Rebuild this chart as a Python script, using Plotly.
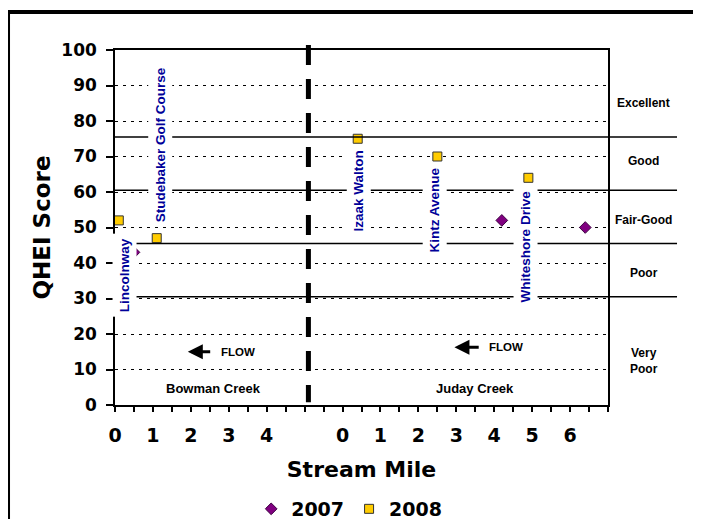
import numpy as np
import plotly.graph_objects as go

# ---------------- data ----------------
creek_2007 = ["Bowman", "Juday", "Juday"]
mile_2007 = [0.5, 4.2, 6.4]
score_2007 = [43, 52, 50]

creek_2008 = ["Bowman", "Bowman", "Juday", "Juday", "Juday"]
mile_2008 = [0.1, 1.1, 0.4, 2.5, 4.9]
score_2008 = [52, 47, 75, 70, 64]

site_names = ["Lincolnway", "Studebaker Golf Course", "Izaak Walton",
              "Kintz Avenue", "Whiteshore Drive"]
site_creek = ["Bowman", "Bowman", "Juday", "Juday", "Juday"]

class_names = ["Excellent", "Good", "Fair-Good", "Poor", "Very<br>Poor"]
class_bounds = [75.5, 60.5, 45.5, 30.5]

bowman_tick_miles = [0, 1, 2, 3, 4]
juday_tick_miles = [0, 1, 2, 3, 4, 5, 6]
creek_names = ["Bowman Creek", "Juday Creek"]

# ---------------- layout helpers ----------------
OFFSET = {"Bowman": 0.0, "Juday": 6.0}   # Juday Creek miles start after the divider


def pos(creeks, miles):
    return [m + OFFSET[c] for c, m in zip(creeks, miles)]


tickvals = list(np.arange(0, 13.01, 0.5))
labels = {}
for m in bowman_tick_miles:
    labels[float(m + OFFSET["Bowman"])] = str(m)
for m in juday_tick_miles:
    labels[float(m + OFFSET["Juday"])] = str(m)
ticktext = [labels.get(float(v), "") for v in tickvals]

BOLD_V = "DejaVu Sans"
ARIAL = "Liberation Sans, Arial"

fig = go.Figure()
fig.add_trace(go.Scatter(
    x=pos(creek_2007, mile_2007), y=score_2007, mode="markers", name="2007",
    marker=dict(symbol="diamond", size=9, color="#800080",
                line=dict(color="#3c0040", width=1)),
))
fig.add_trace(go.Scatter(
    x=pos(creek_2008, mile_2008), y=score_2008, mode="markers", name="2008",
    marker=dict(symbol="square", size=9, color="#FFCC00",
                line=dict(color="#333333", width=1)),
))

shapes = []
# outer frame
shapes.append(dict(type="rect", xref="paper", yref="paper",
                   x0=-0.217, x1=1.25, y0=-0.45, y1=1.107,
                   line=dict(color="black", width=4)))
# class boundaries
for b in class_bounds:
    shapes.append(dict(type="line", xref="paper", yref="y", x0=0, x1=1.14,
                       y0=b, y1=b, line=dict(color="black", width=1.5)))
# divider between creeks
shapes.append(dict(type="line", xref="x", yref="paper", x0=5.1, x1=5.1,
                   y0=1.014, y1=0.008,
                   line=dict(color="black", width=5, dash="20px,14px")))

annotations = []
# site labels (rotated, white background)
site_label_pos = [(0.24, 36.6), (1.2, 73.3), (0.43, 60.4), (2.42, 54.9), (4.83, 44.6)]
for name, c, (m, y) in zip(site_names, site_creek, site_label_pos):
    annotations.append(dict(x=m + OFFSET[c], y=y, xref="x", yref="y", text=name,
                            showarrow=False, textangle=-90, bgcolor="white",
                            borderpad=4, xanchor="center", yanchor="middle",
                            font=dict(family=ARIAL, size=13.5, color="#000099",
                                      weight="bold")))
# class labels on the right
class_label_y = [85.2, 68.7, 52.1, 37.3, 12.4]
for name, y in zip(class_names, class_label_y):
    annotations.append(dict(x=1.073, y=y, xref="paper", yref="y", text=name,
                            showarrow=False, xanchor="center", yanchor="middle",
                            font=dict(family=ARIAL, size=12, color="black",
                                      weight="bold")))
# creek names
for name, c, m in zip(creek_names, ["Bowman", "Juday"], [2.6, 3.5]):
    annotations.append(dict(x=m + OFFSET[c], y=4.6, xref="x", yref="y", text=name,
                            showarrow=False, xanchor="center", yanchor="middle",
                            font=dict(family=ARIAL, size=13, color="black",
                                      weight="bold")))
# flow arrows
for c, head, tail, txt, y in [("Bowman", 1.92, 2.55, 3.24, 15.0),
                              ("Juday", 2.95, 3.63, 4.32, 16.3)]:
    annotations.append(dict(x=head + OFFSET[c], y=y, ax=tail + OFFSET[c], ay=y,
                            xref="x", yref="y", axref="x", ayref="y", text="",
                            showarrow=True, arrowhead=2, arrowsize=1,
                            arrowwidth=3, arrowcolor="black"))
    annotations.append(dict(x=txt + OFFSET[c], y=y, xref="x", yref="y", text="FLOW",
                            showarrow=False, xanchor="center", yanchor="middle",
                            font=dict(family=ARIAL, size=11.5, color="black",
                                      weight="bold")))

fig.update_layout(
    width=685, height=511,
    margin=dict(l=107, r=85, t=42, b=114, autoexpand=False),
    paper_bgcolor="white", plot_bgcolor="white",
    shapes=shapes, annotations=annotations,
    showlegend=True,
    legend=dict(orientation="h", x=0.475, xanchor="center",
                yref="container", y=0.0196, yanchor="middle",
                font=dict(family=BOLD_V, size=19, color="black", weight="bold")),
    xaxis=dict(range=[0, 13], tickmode="array", tickvals=tickvals,
               ticktext=ticktext, ticks="outside", ticklen=5, tickwidth=1.5,
               tickcolor="black", showline=True, linecolor="black",
               linewidth=1.5, mirror=True, showgrid=False, zeroline=False,
               automargin=False, ticklabelstandoff=7,
               tickfont=dict(family=BOLD_V, size=19, color="black",
                             weight="bold"),
               title=dict(text="Stream Mile", standoff=17,
                          font=dict(family=BOLD_V, size=22, color="black",
                                    weight="bold"))),
    yaxis=dict(range=[0, 100], tickmode="linear", tick0=0, dtick=10,
               ticks="outside", ticklen=7, tickwidth=1.5, tickcolor="black",
               showline=True, linecolor="black", linewidth=1.5, mirror=True,
               showgrid=True, gridcolor="black", gridwidth=1,
               griddash="3px,5px", zeroline=False, automargin=False,
               ticklabelstandoff=6,
               tickfont=dict(family=BOLD_V, size=17, color="black",
                             weight="bold"),
               title=dict(text="QHEI Score", standoff=4,
                          font=dict(family=BOLD_V, size=23, color="black",
                                    weight="bold"))),
)

fig.write_html("out.html")
